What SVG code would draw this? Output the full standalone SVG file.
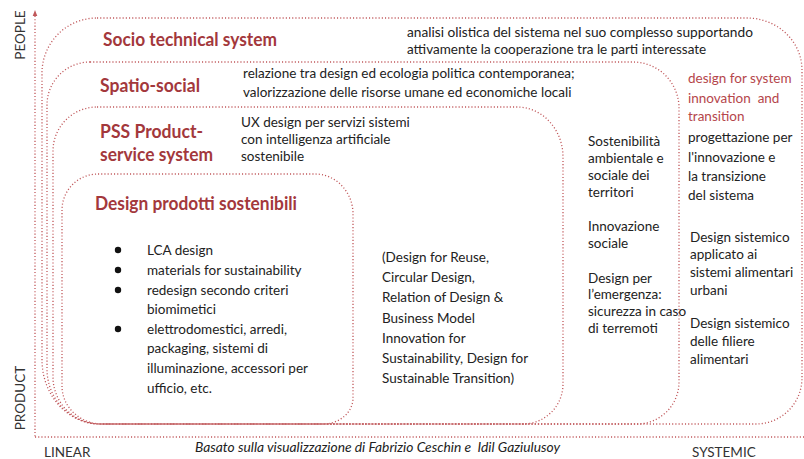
<svg xmlns="http://www.w3.org/2000/svg" width="804" height="459" viewBox="0 0 804 459">
  <defs>
    <style>
      .dot { fill: none; stroke: #c0575a; stroke-width: 1.3; stroke-dasharray: 1.1 2.1; }
      .title { font-family: "Lato", "Open Sans", sans-serif; font-weight: 700; font-size: 18px; fill: #a3383c; }
      .body { font-family: "Lato", "Open Sans", sans-serif; font-size: 13.5px; fill: #222; }
      .accent { font-family: "Lato", "Open Sans", sans-serif; font-size: 13.5px; fill: #b5464b; }
      .axis { font-family: "Lato", "Open Sans", sans-serif; font-size: 13.5px; fill: #333; }
      .credit { font-family: "Lato", "Open Sans", sans-serif; font-size: 13.8px; font-style: italic; fill: #222; }
    </style>
  </defs>
  <rect width="804" height="459" fill="#ffffff"/>

  <!-- axes -->
  <g id="axes">
    <line class="dot" x1="35" y1="16" x2="35" y2="437"/>
    <line class="dot" x1="35" y1="437" x2="804" y2="437"/>
    <polygon points="35,10 37.3,16 32.7,16" fill="#c0575a"/>
    <text class="axis" transform="translate(25,35) rotate(-90)" text-anchor="middle">PEOPLE</text>
    <text class="axis" transform="translate(25,398) rotate(-90)" text-anchor="middle">PRODUCT</text>
    <text class="axis" x="44" y="457">LINEAR</text>
    <text class="axis" x="692" y="457">SYSTEMIC</text>
  </g>

  <!-- nested regions -->
  <g id="socio-technical">
    <path class="dot" d="M97,18 H747 A55,52 0 0 1 802,70 V378 A46,46 0 0 1 756,424 H100 A58,64 0 0 1 42,360 V73 A55,55 0 0 1 97,18 Z"/>
    <text class="title" x="103" y="46" textLength="174" lengthAdjust="spacingAndGlyphs">Socio technical system</text>
    <text class="body" x="407" y="37" style="font-size:13.7px">analisi olistica del sistema nel suo complesso supportando</text>
    <text class="body" x="407" y="54">attivamente la cooperazione tra le parti interessate</text>
  </g>

  <g id="spatio-social">
    <path class="dot" d="M90,62 H633 A46,46 0 0 1 679,108 V382 A42,42 0 0 1 637,424 H100 A53,55 0 0 1 47,369 V105 A43,43 0 0 1 90,62 Z"/>
    <text class="title" x="100" y="92" textLength="100" lengthAdjust="spacingAndGlyphs">Spatio-social</text>
    <text class="body" x="243" y="78">relazione tra design ed ecologia politica contemporanea;</text>
    <text class="body" x="243" y="97">valorizzazione delle risorse umane ed economiche locali</text>
  </g>

  <g id="pss">
    <path class="dot" d="M97,107 H517 A46,50 0 0 1 563,157 V384 A40,40 0 0 1 523,424 H100 A47,47 0 0 1 53,377 V151 A44,44 0 0 1 97,107 Z"/>
    <text class="title" x="100" y="138" textLength="103" lengthAdjust="spacingAndGlyphs">PSS Product-</text>
    <text class="title" x="100" y="161" textLength="113" lengthAdjust="spacingAndGlyphs">service system</text>
    <text class="body" x="241" y="127">UX design per servizi sistemi</text>
    <text class="body" x="241" y="144">con intelligenza artificiale</text>
    <text class="body" x="241" y="161">sostenibile</text>
  </g>

  <g id="design-prodotti">
    <path class="dot" d="M98,174 H315 A38,40 0 0 1 353,214 V398 A30,26 0 0 1 323,424 H102 A40,38 0 0 1 62,386 V210 A36,36 0 0 1 98,174 Z"/>
    <text class="title" x="95" y="210" textLength="202" lengthAdjust="spacingAndGlyphs">Design prodotti sostenibili</text>
    <g fill="#111">
      <circle cx="118" cy="250" r="3.2"/>
      <circle cx="118" cy="270" r="3.2"/>
      <circle cx="118" cy="290" r="3.2"/>
      <circle cx="118" cy="329" r="3.2"/>
    </g>
    <text class="body" x="147" y="255">LCA design</text>
    <text class="body" x="147" y="275">materials for sustainability</text>
    <text class="body" x="147" y="295">redesign secondo criteri</text>
    <text class="body" x="147" y="314">biomimetici</text>
    <text class="body" x="147" y="334">elettrodomestici, arredi,</text>
    <text class="body" x="147" y="353">packaging, sistemi di</text>
    <text class="body" x="147" y="373">illuminazione, accessori per</text>
    <text class="body" x="147" y="393">ufficio, etc.</text>
  </g>

  <!-- PSS examples -->
  <g id="pss-examples">
    <text class="body" x="382" y="262">(Design for Reuse,</text>
    <text class="body" x="382" y="282">Circular Design,</text>
    <text class="body" x="382" y="302">Relation of Design &amp;</text>
    <text class="body" x="382" y="323">Business Model</text>
    <text class="body" x="382" y="343">Innovation for</text>
    <text class="body" x="382" y="363">Sustainability, Design for</text>
    <text class="body" x="382" y="383">Sustainable Transition)</text>
  </g>

  <!-- spatio-social examples -->
  <g id="spatio-examples">
    <text class="body" x="588" y="146">Sostenibilità</text>
    <text class="body" x="588" y="163">ambientale e</text>
    <text class="body" x="588" y="180">sociale dei</text>
    <text class="body" x="588" y="197">territori</text>
    <text class="body" x="588" y="231">Innovazione</text>
    <text class="body" x="588" y="248">sociale</text>
    <text class="body" x="588" y="283">Design per</text>
    <text class="body" x="588" y="299">l’emergenza:</text>
    <text class="body" x="588" y="316">sicurezza in caso</text>
    <text class="body" x="588" y="333">di terremoti</text>
  </g>

  <!-- socio-technical examples -->
  <g id="socio-examples">
    <text class="accent" x="688" y="83">design for system</text>
    <text class="accent" x="688" y="103" xml:space="preserve">innovation  and</text>
    <text class="accent" x="688" y="121">transition</text>
    <text class="body" x="688" y="142">progettazione per</text>
    <text class="body" x="688" y="162">l'innovazione e</text>
    <text class="body" x="688" y="181">la transizione</text>
    <text class="body" x="688" y="200">del sistema</text>
    <text class="body" x="690" y="242">Design sistemico</text>
    <text class="body" x="690" y="259">applicato ai</text>
    <text class="body" x="690" y="277">sistemi alimentari</text>
    <text class="body" x="690" y="295">urbani</text>
    <text class="body" x="690" y="328">Design sistemico</text>
    <text class="body" x="690" y="346">delle filiere</text>
    <text class="body" x="690" y="364">alimentari</text>
  </g>

  <text class="credit" x="195" y="452" xml:space="preserve">Basato sulla visualizzazione di Fabrizio Ceschin e  Idil Gaziulusoy</text>
</svg>
